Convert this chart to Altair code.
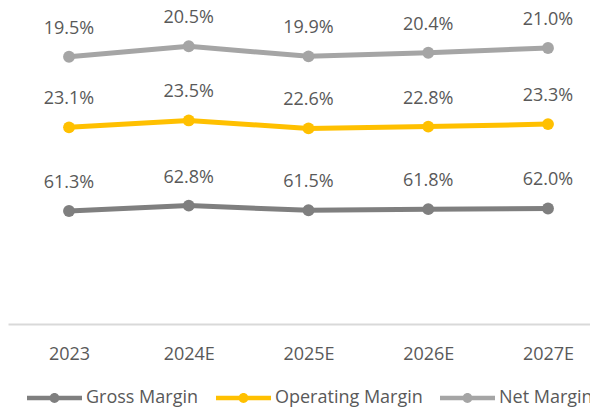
import altair as alt
import pandas as pd

years = ["2023", "2024E", "2025E", "2026E", "2027E"]
gross = [61.3, 62.8, 61.5, 61.8, 62.0]
operating = [23.1, 23.5, 22.6, 22.8, 23.3]
net = [19.5, 20.5, 19.9, 20.4, 21.0]
series = ["Gross Margin", "Operating Margin", "Net Margin"]
colors = ["#7f7f7f", "#ffc000", "#a5a5a5"]

rows = []
for i, (name, vals) in enumerate(zip(series, [gross, operating, net])):
    for j, (yr, v) in enumerate(zip(years, vals)):
        rows.append({"year": yr, "pos": j, "series": name, "idx": i, "value": v})
df = pd.DataFrame(rows)

FONT = "Open Sans"
TXT = "#595959"

base = alt.Chart(df).transform_window(
    cum="sum(value)", groupby=["year"], sort=[alt.SortField("idx")], frame=[None, 0]
).transform_calculate(label="format(datum.value, '.1f') + '%'")

label_expr = "[" + ",".join("'%s'" % yv for yv in years) + "][datum.value]"

x = alt.X(
    "pos:Q",
    scale=alt.Scale(domain=[-0.5094, 4.3507], nice=False, zero=False),
    axis=alt.Axis(
        title=None, labelAngle=0, ticks=False, tickSize=0, grid=False,
        values=list(range(len(years))), labelExpr=label_expr, offset=-85,
        domainColor="#d9d9d9", domainWidth=2, labelColor=TXT, labelFont=FONT,
        labelFontSize=18, labelPadding=35, labelBaseline="alphabetic",
        labelFlush=False, labelOverlap=False,
    ),
)
y = alt.Y("cum:Q", scale=alt.Scale(domain=[6.63, 117.35], nice=False, zero=False), axis=None)

# legend glyph: thick line with a dot, drawn from x=-1..4 (unit = 11px)
sym = ("M-1,-0.2L4,-0.2L4,0.2L-1,0.2Z "
       "M1.05,0A0.45,0.45,0,1,1,1.95,0A0.45,0.45,0,1,1,1.05,0Z")

color = alt.Color(
    "series:N",
    scale=alt.Scale(domain=series, range=colors),
    legend=alt.Legend(
        orient="none", legendX=19, legendY=379, direction="horizontal", title=None,
        symbolType=sym, symbolSize=484, symbolStrokeWidth=0, symbolOpacity=1,
        labelFont=FONT, labelFontSize=18, labelColor=TXT, labelOffset=37,
        columnPadding=17, padding=0,
    ),
)

lines = base.mark_line(strokeWidth=5).encode(x=x, y=y, color=color, detail="series:N")
points = base.mark_circle(size=140, opacity=1).encode(x=x, y=y, color=color)
labels = base.mark_text(dy=-23, baseline="alphabetic", font=FONT, fontSize=18, color=TXT).encode(
    x=x, y=y, text="label:N"
)

chart = alt.layer(lines, points, labels).properties(
    width=582, height=401, padding=0, autosize=alt.AutoSizeParams(type="none")
).configure_view(stroke=None)

chart.save("out.html", embed_options={"renderer": "svg", "actions": False})
